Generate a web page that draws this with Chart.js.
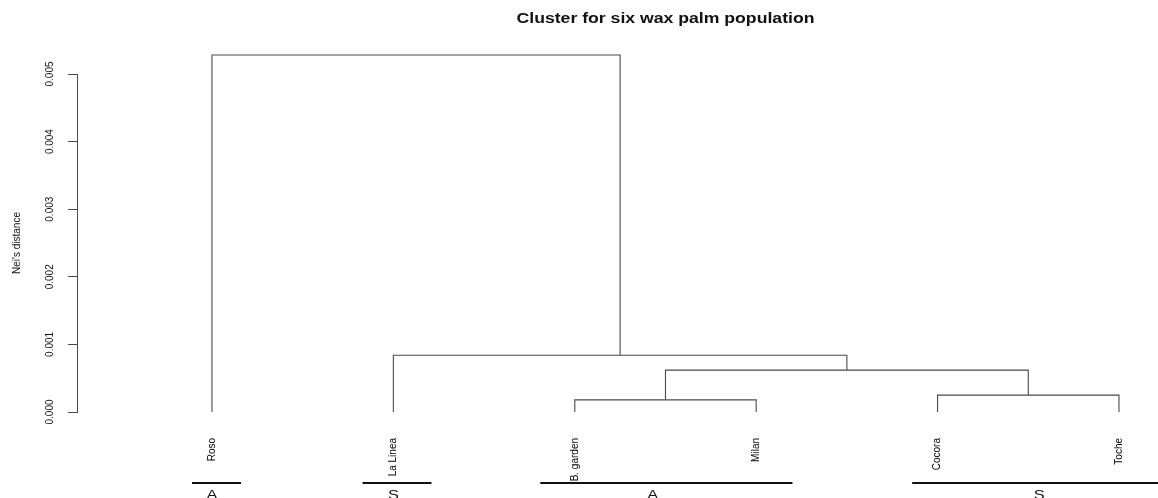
<!DOCTYPE html>
<html>
<head>
<meta charset="utf-8">
<title>Cluster for six wax palm population</title>
<script src="https://cdn.jsdelivr.net/npm/chart.js@4.4.1/dist/chart.umd.min.js"></script>
<style>
  html, body { margin: 0; padding: 0; background: #ffffff; }
  #wrap { width: 1158px; height: 498px; }
</style>
</head>
<body>
<div id="wrap"><canvas id="c" width="1158" height="498"></canvas></div>
<script>
// Populations, in dendrogram leaf order
const leaves = ['Roso', 'La Linea', 'B. garden', 'Milan', 'Cocora', 'Toche'];

// hclust-style merge table: negative = leaf (1-based), positive = earlier merge
const mergeLeft   = [-3, -5, 1, -2, -1];
const mergeRight  = [-4, -6, 2,  3,  4];
const mergeHeight = [0.00018, 0.00025, 0.00062, 0.00084, 0.00528];

// Nei's distance axis ticks
const yTicks = [0, 0.001, 0.002, 0.003, 0.004, 0.005];

// Population groups shown under the leaves
const groupNames = ['A', 'S', 'A', 'S'];
const groupFirst = [1, 2, 3, 5];
const groupLast  = [1, 2, 4, 6];

const SANS = "'Liberation Sans', Arial, sans-serif";
const LINE = '#4a4a4a';

// Node coordinates: leaves sit at 1..n, merges at the midpoint of their children
function nodeOf(ref, merged) {
  return ref < 0 ? { x: -ref, y: 0 } : merged[ref - 1];
}
const merged = [];
const datasets = [];
for (let k = 0; k < mergeHeight.length; k++) {
  const a = nodeOf(mergeLeft[k], merged);
  const b = nodeOf(mergeRight[k], merged);
  const h = mergeHeight[k];
  merged.push({ x: (a.x + b.x) / 2, y: h });
  datasets.push({
    data: [{ x: a.x, y: a.y }, { x: a.x, y: h }, { x: b.x, y: h }, { x: b.x, y: b.y }],
    showLine: true,
    borderColor: LINE,
    borderWidth: 1.1,
    pointRadius: 0,
    tension: 0,
    fill: false,
    clip: false
  });
}

// Draws text widened horizontally around its centre x
function wideText(ctx, text, x, y, sx) {
  ctx.save();
  ctx.translate(x, y);
  ctx.scale(sx, 1);
  ctx.fillText(text, 0, 0);
  ctx.restore();
}

// Main title and the group bars beneath the leaf labels
const annotations = {
  id: 'annotations',
  afterDraw(chart, args, opts) {
    const ctx = chart.ctx;
    const xs = chart.scales.x;
    ctx.save();
    ctx.fillStyle = '#111';
    ctx.font = 'bold 14px ' + SANS;
    ctx.textAlign = 'center';
    ctx.textBaseline = 'alphabetic';
    wideText(ctx, opts.title, xs.getPixelForValue((1 + leaves.length) / 2), opts.titleY, opts.stretch);

    ctx.strokeStyle = '#111';
    ctx.lineWidth = 2;
    ctx.font = '13px ' + SANS;
    ctx.textBaseline = 'top';
    for (let g = 0; g < groupNames.length; g++) {
      const x0 = xs.getPixelForValue(groupFirst[g] - opts.padBefore[g]);
      const x1 = xs.getPixelForValue(groupLast[g] + opts.padAfter[g]);
      ctx.beginPath();
      ctx.moveTo(x0, opts.barY);
      ctx.lineTo(x1, opts.barY);
      ctx.stroke();
      const mid = (groupFirst[g] + groupLast[g]) / 2 + opts.labelShift[g];
      wideText(ctx, groupNames[g], xs.getPixelForValue(mid), opts.labelY, opts.stretch);
    }
    ctx.restore();
  }
};

new Chart(document.getElementById('c'), {
  type: 'scatter',
  data: { datasets },
  plugins: [annotations],
  options: {
    responsive: false,
    animation: false,
    devicePixelRatio: 1,
    events: [],
    layout: { padding: { top: 74, right: 8, bottom: 0, left: 0 } },
    plugins: {
      legend: { display: false },
      tooltip: { enabled: false },
      annotations: {
        title: 'Cluster for six wax palm population',
        titleY: 23,
        stretch: 1.26,
        barY: 483,
        labelY: 489,
        padBefore: [0.11, 0.17, 0.19, 0.14],
        padAfter: [0.16, 0.21, 0.20, 0.30],
        labelShift: [0, 0, -0.07, 0.06]
      }
    },
    scales: {
      x: {
        type: 'linear',
        min: 0.256,
        max: 6.171,
        afterBuildTicks: s => { s.ticks = leaves.map((_, i) => ({ value: i + 1 })); },
        afterFit: s => { s.height = 86; },
        ticks: {
          autoSkip: false,
          minRotation: 90,
          maxRotation: 90,
          padding: 26,
          color: '#000',
          font: { family: SANS, size: 10 },
          callback: v => leaves[v - 1]
        },
        grid: { display: false, drawTicks: false },
        border: { display: false }
      },
      y: {
        min: 0,
        max: 0.005,
        afterBuildTicks: s => { s.ticks = yTicks.map(v => ({ value: v })); },
        afterFit: s => { s.width = 77; },
        ticks: {
          minRotation: 90,
          maxRotation: 90,
          crossAlign: 'center',
          padding: 5,
          color: '#111',
          font: { family: SANS, size: 10 },
          callback: v => v.toFixed(3)
        },
        grid: { drawOnChartArea: false, drawTicks: true, tickLength: 9, color: LINE, lineWidth: 1 },
        border: { display: true, color: LINE, width: 1 },
        title: {
          display: true,
          text: "Nei's distance",
          color: '#111',
          font: { family: SANS, size: 10 },
          padding: { top: 11, bottom: 0 }
        }
      }
    }
  }
});
</script>
</body>
</html>
